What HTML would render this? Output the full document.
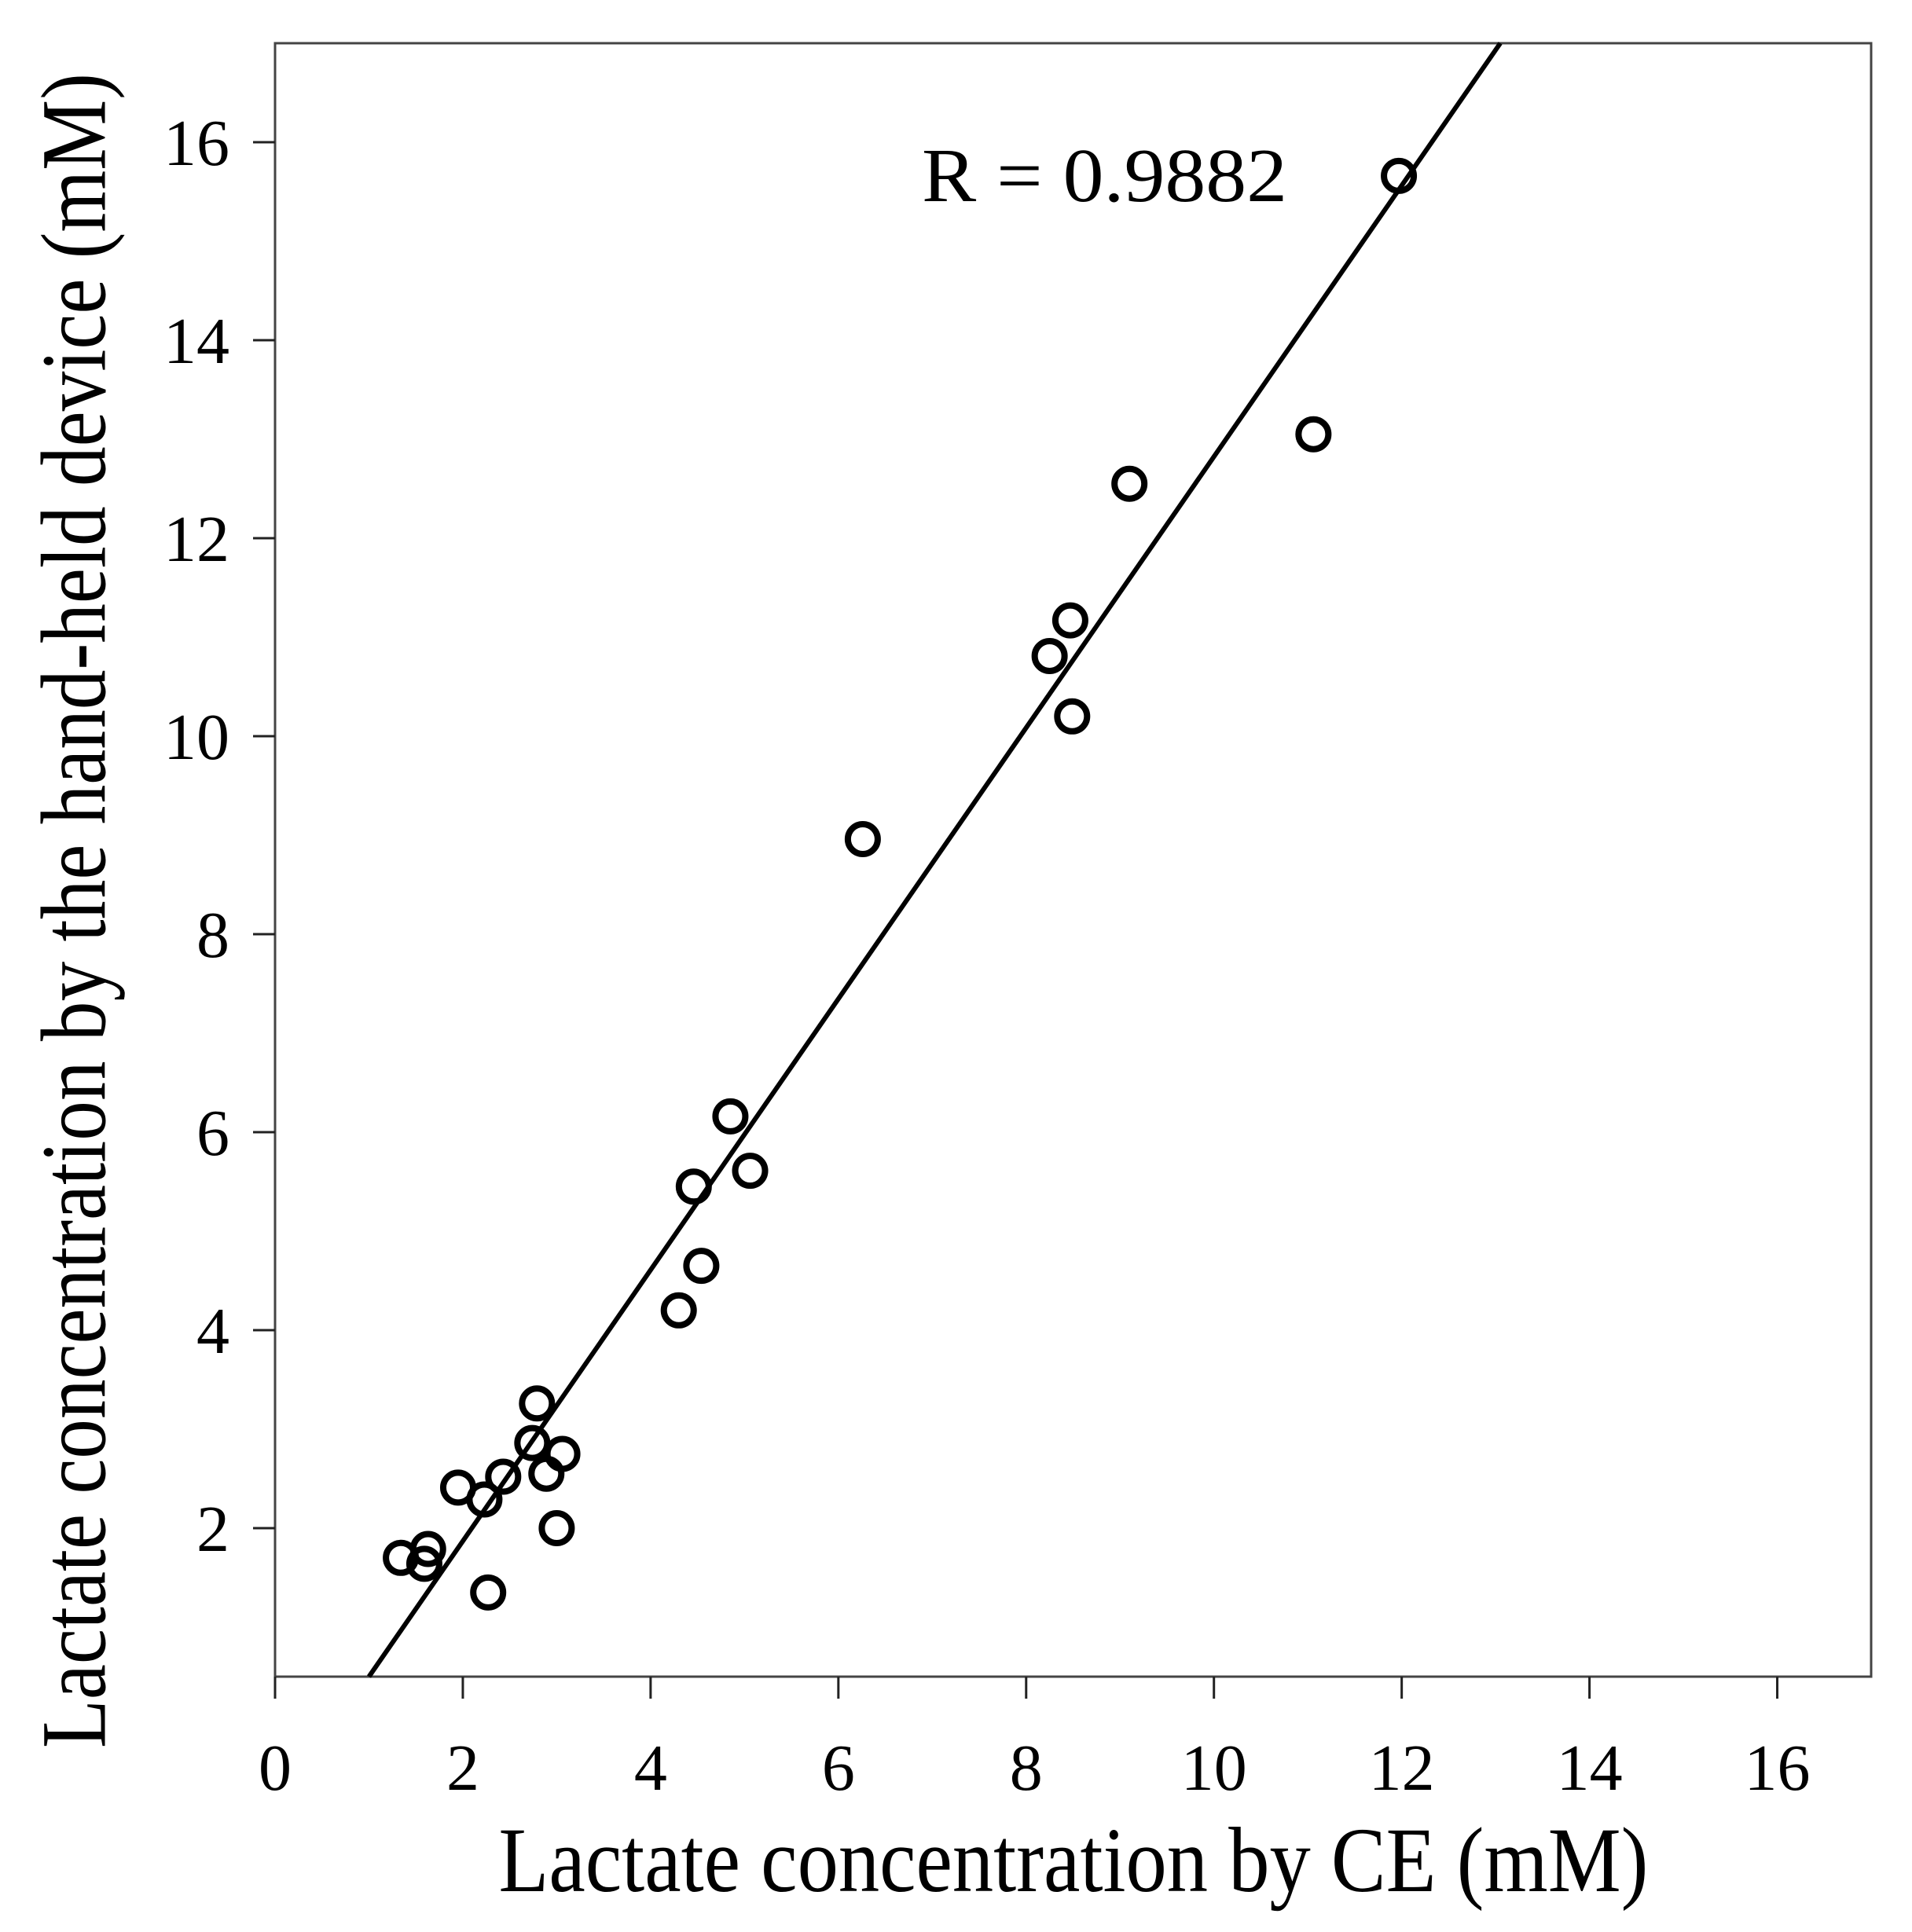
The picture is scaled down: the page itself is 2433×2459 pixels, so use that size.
<!DOCTYPE html>
<html><head><meta charset="utf-8"><style>html,body{margin:0;padding:0;background:#fff}svg{display:block}</style></head>
<body>
<svg id="chart" width="2433" height="2459" xmlns="http://www.w3.org/2000/svg" font-family="'Liberation Serif', serif">
<g id="axes"></g>
<g id="marks"></g>
<text x="1173" y="256" font-size="98" textLength="465" lengthAdjust="spacingAndGlyphs">R = 0.9882</text>
<text x="1366" y="2407" font-size="118" text-anchor="middle" textLength="1463" lengthAdjust="spacingAndGlyphs">Lactate concentration by CE (mM)</text>
<text transform="translate(94,1159) rotate(-90)" x="0" y="0" font-size="118" text-anchor="middle" dominant-baseline="central" textLength="2132" lengthAdjust="spacingAndGlyphs">Lactate concentration by the hand-held device (mM)</text>
</svg>
<script>
const xTicks = [0,2,4,6,8,10,12,14,16];
const yTicks = [2,4,6,8,10,12,14,16];
const xs = [1.34,1.59,1.63,1.95,2.23,2.43,2.27,2.74,2.79,2.89,3.06,3.0,4.30,4.46,4.54,4.85,5.06,6.26,8.25,8.47,8.49,9.10,11.06,11.97];
const ys = [1.70,1.64,1.79,2.41,2.29,2.52,1.35,2.86,3.26,2.55,2.75,2.0,4.20,5.45,4.65,6.16,5.61,8.96,10.81,11.17,10.20,12.55,13.05,15.66];
const fitX = [1.0,13.05];
const fitY = [0.5,17.0];

const X0=350,X1=2381,Y0=2134,Y1=55,xmin=0,xmax=17,ymin=0.5,ymax=17;
const sx=v=>X0+(v-xmin)/(xmax-xmin)*(X1-X0);
const sy=v=>Y0-(v-ymin)/(ymax-ymin)*(Y0-Y1);
const NS='http://www.w3.org/2000/svg';
const axes=document.getElementById('axes'), marks=document.getElementById('marks');
function mk(tag,attrs,parent){const e=document.createElementNS(NS,tag);for(const k in attrs)e.setAttribute(k,attrs[k]);parent.appendChild(e);return e;}

const box=mk('rect',{x:X0,y:Y1,width:X1-X0,height:Y0-Y1,fill:'none',stroke:'#444','stroke-width':3},axes);



xTicks.forEach(v=>{
  const t=mk('line',{x1:sx(v),x2:sx(v),y1:Y0,y2:Y0+28,stroke:'#222','stroke-width':3},axes);
  
  
  const l=mk('text',{x:sx(v),y:2278,'font-size':84,'text-anchor':'middle'},axes);
  l.textContent=v;
  
  
});
yTicks.forEach(v=>{
  const t=mk('line',{x1:X0-28,x2:X0,y1:sy(v),y2:sy(v),stroke:'#222','stroke-width':3},axes);
  
  
  const l=mk('text',{x:292,y:sy(v)+29,'font-size':84,'text-anchor':'end'},axes);
  l.textContent=v;
  
  
});

const fit=mk('line',{x1:sx(fitX[0]),y1:sy(fitY[0]),x2:sx(fitX[1]),y2:sy(fitY[1]),stroke:'#000','stroke-width':6},marks);



xs.forEach((v,i)=>{
  const c=mk('circle',{cx:sx(v),cy:sy(ys[i]),r:19,fill:'none',stroke:'#000','stroke-width':8},marks);
  
  
});
</script>
</body></html>
